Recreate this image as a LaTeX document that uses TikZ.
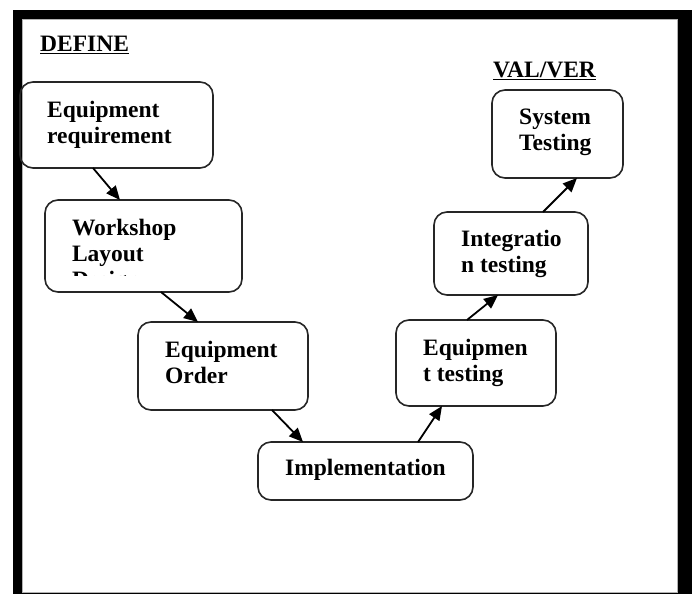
\documentclass[tikz,border=0pt]{standalone}
\usepackage{fontspec}
\setmainfont{Liberation Serif}
\usetikzlibrary{arrows.meta,positioning}
\newcommand\stagefont{\fontsize{23.5}{26}\selectfont\bfseries}

\begin{document}
\begin{tikzpicture}[x=1pt, y=-1pt,
    stage/.style={draw=black!85, line width=1.6pt, rounded corners=13pt, anchor=north west,
                  inner sep=0pt, outer sep=0pt},
    lbl/.style={anchor=north west, align=left, inner xsep=27pt, inner ysep=19pt, font=\stagefont,
                minimum width=0pt, minimum height=0pt},
    phase/.style={anchor=base west, inner sep=0pt, font=\stagefont},
    flow/.style={-{Triangle[length=14pt, width=12pt]}, line width=1.8pt},
]
\useasboundingbox (0,0) rectangle (692,594);
% Page frame
\fill[white] (0,0) rectangle (692,594);
\fill[black] (13,10) rectangle (692,594);
\filldraw[fill=white, draw=gray!60, line width=0.8pt] (22,19) rectangle (677,592);

% Phase headings
\node[phase] (define) at (40,52) {\underline{DEFINE}};
\node[phase] (valver) at (493,77) {\underline{VAL/VER}};

% Left leg
\node[stage, minimum width=193pt, minimum height=86pt] (req) at (20,82) {};
\node[lbl] (req-txt) at (req.north west) {Equipment\\requirement};

% text runs past the box, so cut it off inside
\node[stage, minimum width=197pt, minimum height=92pt, path picture={
    \clip (path picture bounding box.north west) rectangle ([yshift=17pt]path picture bounding box.south east);
    \node[lbl] (wsp-txt) at (path picture bounding box.north west) {Workshop\\Layout\\Design};
}] (wsp) at (45,200) {};

\node[stage, minimum width=170pt, minimum height=88pt] (ord) at (138,322) {};
\node[lbl] (ord-txt) at (ord.north west) {Equipment\\Order};

% Bottom
\node[stage, minimum width=215pt, minimum height=58pt] (imp) at (258,442) {};
\node[lbl, inner ysep=17pt] (imp-txt) at (imp.north west) {Implementation};

% Right leg
\node[stage, minimum width=160pt, minimum height=86pt] (eqt) at (396,320) {};
\node[lbl] (eqt-txt) at (eqt.north west) {Equipmen\\t testing};

\node[stage, minimum width=154pt, minimum height=83pt] (int) at (434,212) {};
\node[lbl, inner ysep=18pt] (int-txt) at (int.north west) {Integratio\\n testing};

\node[stage, minimum width=131pt, minimum height=88pt] (sys) at (492,90) {};
\node[lbl] (sys-txt) at (sys.north west) {System\\Testing};

% Arrows down the V and back up
\draw[flow] ([xshift=-23.5pt]req.south) -- ([xshift=-23.5pt]wsp.north);
\draw[flow] ([xshift=17.5pt]wsp.south) -- ([xshift=-25pt]ord.north);
\draw[flow] ([xshift=49pt]ord.south) -- ([xshift=-62.5pt]imp.north);
\draw[flow] ([xshift=52.5pt]imp.north) -- ([xshift=-34pt]eqt.south);
\draw[flow] ([xshift=-9pt]eqt.north) -- ([xshift=-13pt]int.south);
\draw[flow] ([xshift=32pt]int.north) -- ([xshift=19.5pt]sys.south);
\end{tikzpicture}
\end{document}
